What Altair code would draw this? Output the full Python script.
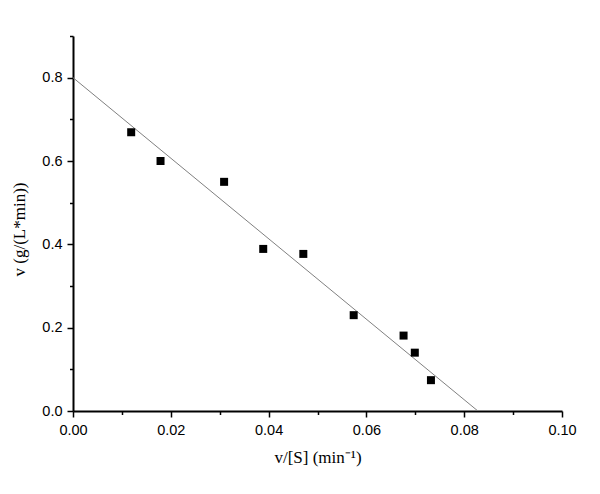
import altair as alt
import pandas as pd

# data
vs = [0.0119, 0.0179, 0.0309, 0.0389, 0.0471, 0.0574, 0.0676, 0.0699, 0.0732]
v = [0.669, 0.600, 0.550, 0.389, 0.377, 0.230, 0.181, 0.140, 0.074]
fit_x = [0.0, 0.0828]
fit_y = [0.8, 0.0]

pts = pd.DataFrame({"x": vs, "y": v})
fit = pd.DataFrame({"x": fit_x, "y": fit_y})

x_ticks = [round(i * 0.01, 2) for i in range(0, 11)]
y_ticks = [round(i * 0.1, 1) for i in range(0, 10)]

xscale = alt.Scale(domain=[0, 0.10], nice=False, zero=False)
yscale = alt.Scale(domain=[0, 0.9], nice=False, zero=False)

xaxis = alt.Axis(
    values=x_ticks,
    labelExpr="round(datum.value*100) % 2 == 0 ? format(datum.value, '.2f') : ''",
    tickSize={"condition": {"test": "round(datum.value*100) % 2 == 0", "value": 6}, "value": 3.5},
    grid=False, domainColor="black", domainWidth=2, tickColor="black", tickWidth=1.5,
    labelFont="Liberation Sans", labelFontSize=14.5, labelColor="black", labelPadding=6,
    title="v/[S] (min⁻¹)", titleFont="Liberation Serif", titleFontSize=17,
    titleFontWeight="normal", titleColor="black", titlePadding=13, labelFlush=False,
)
yaxis = alt.Axis(
    values=y_ticks,
    labelExpr="round(datum.value*10) % 2 == 0 ? format(datum.value, '.1f') : ''",
    tickSize={"condition": {"test": "round(datum.value*10) % 2 == 0", "value": 6}, "value": 3.5},
    grid=False, domainColor="black", domainWidth=2, tickColor="black", tickWidth=1.5,
    labelFont="Liberation Sans", labelFontSize=14.5, labelColor="black", labelPadding=5,
    title="v (g/(L*min))", titleFont="Liberation Serif", titleFontSize=17,
    titleFontWeight="normal", titleColor="black", titlePadding=13, labelFlush=False,
    titleY=193,
)

line = alt.Chart(fit).mark_line(color="#808080", strokeWidth=1, clip=True).encode(
    x=alt.X("x:Q", scale=xscale, axis=xaxis),
    y=alt.Y("y:Q", scale=yscale, axis=yaxis),
)
points = alt.Chart(pts).mark_square(color="black", size=64, opacity=1).encode(
    x=alt.X("x:Q", scale=xscale, axis=xaxis),
    y=alt.Y("y:Q", scale=yscale, axis=yaxis),
)

chart = (line + points).properties(
    width=489, height=375,
    background="white",
    autosize=alt.AutoSizeParams(type="none"),
    padding={"left": 65, "top": 28, "right": 30, "bottom": 75},
).configure_view(stroke=None, strokeWidth=0)

chart.save("out.html", embed_options={"renderer": "svg", "actions": False})
